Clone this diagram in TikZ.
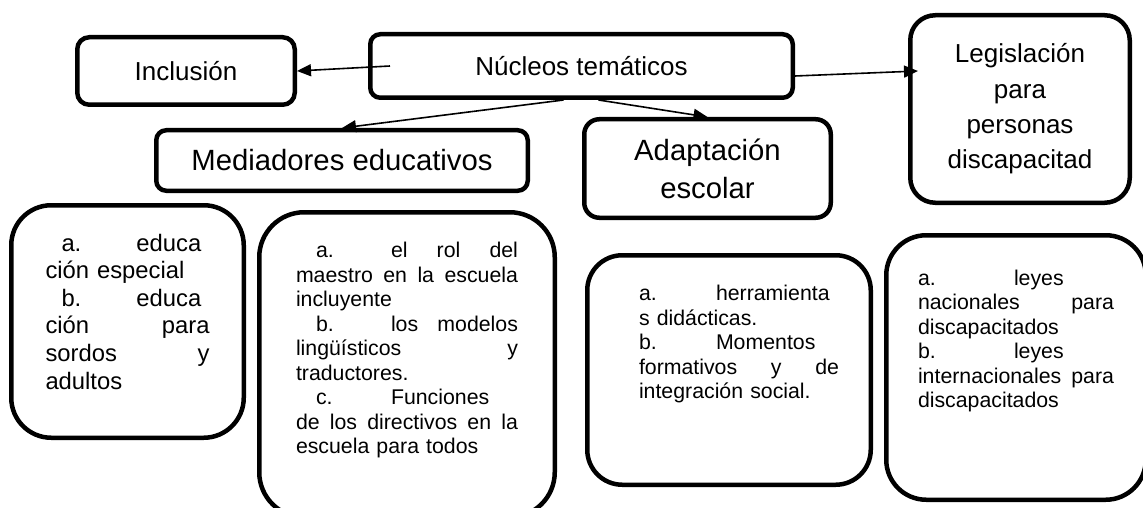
\documentclass[tikz,border=0pt]{standalone}
\usepackage{fontspec}
\setmainfont{Liberation Sans}
\usetikzlibrary{arrows.meta}
\usetikzlibrary{positioning}

\newcommand{\marca}[3]{\makebox[#1][l]{\hspace*{#2}#3}}

\begin{document}
\begin{tikzpicture}[x=1pt,y=-1pt,on grid,
  caja/.style={draw,line width=4.5pt,rounded corners=#1,inner sep=0pt},
  titulo/.style={font=\fontsize{26}{35.3}\selectfont},
  grande/.style={font=\fontsize{29.3}{38}\selectfont},
  texto/.style={font=\fontsize{21.3}{24.5}\selectfont,align=left},
  flecha/.style={-{Triangle[length=14pt,width=12pt]},line width=1.6pt}]

  \useasboundingbox (0,0) rectangle (1143,508);

  \node[caja=10pt,titulo,minimum width=422.5pt,minimum height=63.5pt] (nuc) at (581.5,66) {Núcleos temáticos};
  \node[caja=12pt,titulo,minimum width=217.5pt,minimum height=67.5pt] (inc) [below left=5pt and 395.5pt of nuc] {Inclusión};
  \node[caja=10pt,grande,minimum width=371.5pt,minimum height=60.5pt] (med) [below left=94.5pt and 239.5pt of nuc] {Mediadores educativos};
  \node[caja=15pt,grande,align=center,minimum width=246.5pt,minimum height=98.5pt] (ada) [below right=102.5pt and 126pt of nuc] {Adaptación\\escolar};
  \node[caja=25pt,titulo,align=center,minimum width=219.5pt,minimum height=187.5pt] (leg) [below right=43pt and 438.5pt of nuc] {Legislación\\para\\personas\\discapacitad};

  \node[caja=40pt,font=\fontsize{23.8}{27.6}\selectfont,align=left,text width=164pt,minimum width=232.5pt,minimum height=232.5pt] (ed) [below left=161pt and 214.5pt of med]
    {\marca{91pt}{16pt}{a.}educa\\
     ción especial\\
     \marca{91pt}{16pt}{b.}educa\\
     ción\hfill para\\
     sordos\hfill y\\
     adultos\par\kern20pt};
  \node[caja=45pt,texto,text width=222pt,minimum width=295.5pt,minimum height=305pt] (rol) [below right=204.25pt and 65pt of med]
    {\marca{95pt}{20pt}{a.}el\hfill rol\hfill del\\
     maestro\hfill en\hfill la\hfill escuela\\
     incluyente\\
     \marca{95pt}{20pt}{b.}los\hfill modelos\\
     lingüísticos\hfill y\\
     traductores.\\
     \marca{95pt}{20pt}{c.}Funciones\\
     de\hfill los\hfill directivos\hfill en\hfill la\\
     escuela para todos\par\kern29.5pt};
  \node[caja=35pt,texto,text width=220pt,minimum width=283.5pt,minimum height=229.5pt] (her) [below right=201.5pt and 21.5pt of ada]
    {\leftskip=20pt
     \marca{77pt}{0pt}{a.}herramienta\\
     s didácticas.\\
     \marca{77pt}{0pt}{b.}Momentos\\
     formativos\hfill y\hfill de\\
     integración social.\par\kern52pt};
  \node[caja=40pt,texto,text width=196pt,minimum width=259.5pt,minimum height=264.5pt] (ley) [below left=258.5pt and 4pt of leg]
    {\marca{96pt}{0pt}{a.}leyes\\
     nacionales\hfill para\\
     discapacitados\\
     \marca{96pt}{0pt}{b.}leyes\\
     internacionales\hfill para\\
     discapacitados\par\kern53pt};

  \path[flecha]
    ([xshift=22pt]nuc.west) edge (inc.east)
    ([xshift=-18pt]nuc.south) edge (med.north)
    ([xshift=17pt]nuc.south) edge (ada.north)
    ([yshift=-10pt]nuc.east) edge ([xshift=10pt,yshift=38pt]leg.west);
\end{tikzpicture}
\end{document}
